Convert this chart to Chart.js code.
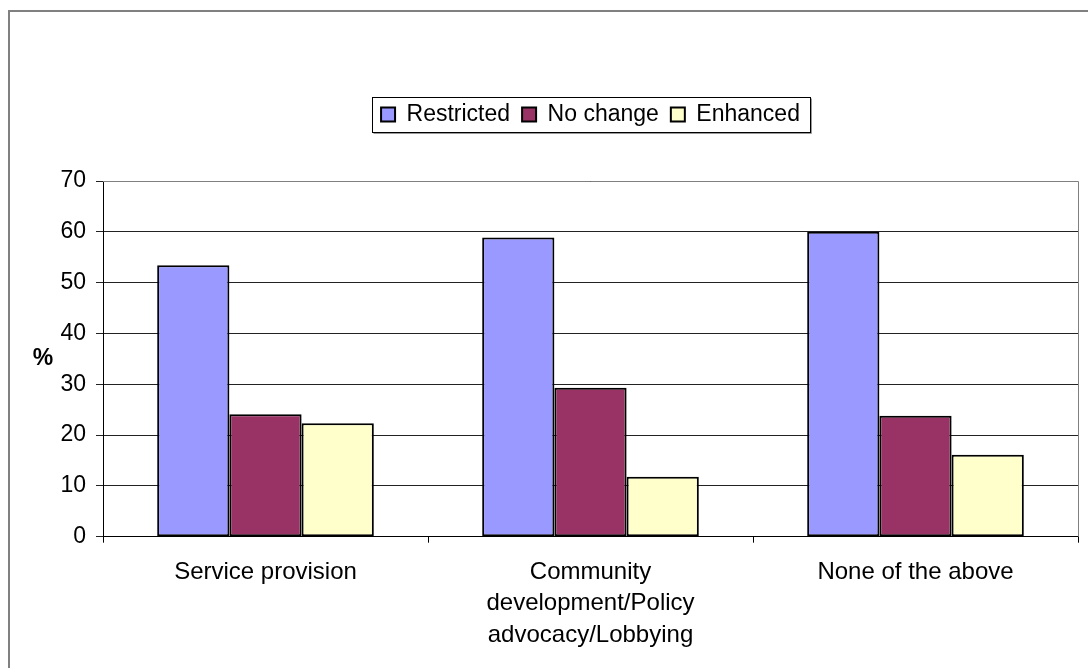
<!DOCTYPE html>
<html>
<head>
<meta charset="utf-8">
<script src="https://cdn.jsdelivr.net/npm/chart.js@4"></script>
<style>
  body { margin: 0; background: #fff; }
  canvas { display: block; }
</style>
</head>
<body>
<canvas id="myChart" width="1088" height="668"></canvas>
<script>
const categories = [
    'Service provision',
    ['Community', 'development/Policy', 'advocacy/Lobbying'],
    'None of the above'
];
const restricted = [53.4, 58.9, 60.0];
const noChange = [24.1, 29.3, 23.8];
const enhanced = [22.3, 11.8, 16.1];
const seriesNames = ['Restricted', 'No change', 'Enhanced'];
const yTicks = [0, 10, 20, 30, 40, 50, 60, 70];

const FONT = "'Liberation Sans', Arial, sans-serif";

// borde exterior, borde del área de trazado, caja de la leyenda y el "%"
const decorPlugin = {
    id: 'decor',
    beforeInit(chart) {
        const legend = chart.legend;
        const origFit = legend.fit;
        legend.fit = function() {
            origFit.call(this);
            this.height += 45;
        };
    },
    beforeDraw(chart) {
        const ctx = chart.ctx;
        ctx.save();
        ctx.fillStyle = '#fff';
        ctx.fillRect(0, 0, chart.width, chart.height);
        ctx.strokeStyle = '#808080';
        ctx.lineWidth = 2;
        ctx.strokeRect(9, 11, chart.width + 20, chart.height + 20);
        ctx.restore();
    },
    beforeDatasetsDraw(chart) {
        const ctx = chart.ctx;
        const a = chart.chartArea;
        ctx.save();
        ctx.strokeStyle = '#808080';
        ctx.lineWidth = 1;
        ctx.beginPath();
        ctx.moveTo(a.left, Math.round(a.top) + 0.5);
        ctx.lineTo(Math.round(a.right) + 0.5, Math.round(a.top) + 0.5);
        ctx.lineTo(Math.round(a.right) + 0.5, a.bottom);
        ctx.stroke();
        ctx.restore();
    },
    afterDraw(chart) {
        const ctx = chart.ctx;
        const legend = chart.legend;
        const boxes = legend.legendHitBoxes;
        if (boxes && boxes.length) {
            const first = boxes[0];
            const last = boxes[boxes.length - 1];
            const x1 = Math.round(first.left - 9) + 0.5;
            const x2 = Math.round(last.left + last.width + 10) + 0.5;
            const y1 = Math.round(first.top - 6) + 0.5;
            const y2 = Math.round(first.top + first.height + 6) + 0.5;
            ctx.save();
            ctx.strokeStyle = '#000';
            ctx.lineWidth = 1;
            ctx.strokeRect(x1, y1, x2 - x1, y2 - y1);
            ctx.strokeStyle = '#999';
            ctx.beginPath();
            ctx.moveTo(x1 + 1, y2 + 1);
            ctx.lineTo(x2 + 1, y2 + 1);
            ctx.lineTo(x2 + 1, y1 + 1);
            ctx.stroke();
            ctx.restore();
        }
        const y = chart.scales.y;
        ctx.save();
        ctx.font = 'bold 23px ' + FONT;
        ctx.fillStyle = '#000';
        ctx.textAlign = 'center';
        ctx.textBaseline = 'middle';
        ctx.fillText('%', 43, (y.top + y.bottom) / 2);
        ctx.restore();
    }
};

const ctx = document.getElementById('myChart').getContext('2d');

new Chart(ctx, {
    type: 'bar',
    data: {
        labels: categories,
        datasets: [
            { label: seriesNames[0], data: restricted, backgroundColor: '#9999FF' },
            { label: seriesNames[1], data: noChange, backgroundColor: '#993366' },
            { label: seriesNames[2], data: enhanced, backgroundColor: '#FFFFCC' }
        ].map(ds => Object.assign(ds, {
            borderColor: '#000',
            borderWidth: 2,
            borderSkipped: false,
            categoryPercentage: 3 / 4.5,
            barPercentage: 1
        }))
    },
    options: {
        responsive: false,
        animation: false,
        layout: {
            padding: { left: 0, right: 10, top: 91, bottom: 3 }
        },
        plugins: {
            legend: {
                position: 'top',
                fullSize: false,
                labels: {
                    color: '#000',
                    font: { family: FONT, size: 23 },
                    boxWidth: 14,
                    boxHeight: 14,
                    padding: 12,
                    useBorderRadius: false
                }
            },
            tooltip: { enabled: false },
            title: { display: false }
        },
        scales: {
            x: {
                grid: {
                    offset: true,
                    drawOnChartArea: false,
                    drawTicks: true,
                    tickLength: 6,
                    color: '#000'
                },
                border: { color: '#000', width: 1 },
                ticks: {
                    color: '#000',
                    font: { family: FONT, size: 24, lineHeight: 1.31 },
                    padding: 14,
                    maxRotation: 0,
                    autoSkip: false
                }
            },
            y: {
                min: 0,
                max: 70,
                afterBuildTicks(scale) {
                    scale.ticks = yTicks.map(v => ({ value: v }));
                },
                afterFit(scale) {
                    scale.width = 103;
                },
                grid: {
                    color: '#222',
                    tickLength: 7,
                    drawTicks: true
                },
                border: { color: '#000', width: 1 },
                ticks: {
                    color: '#000',
                    font: { family: FONT, size: 23 },
                    padding: 10
                }
            }
        }
    },
    plugins: [decorPlugin]
});
</script>
</body>
</html>
